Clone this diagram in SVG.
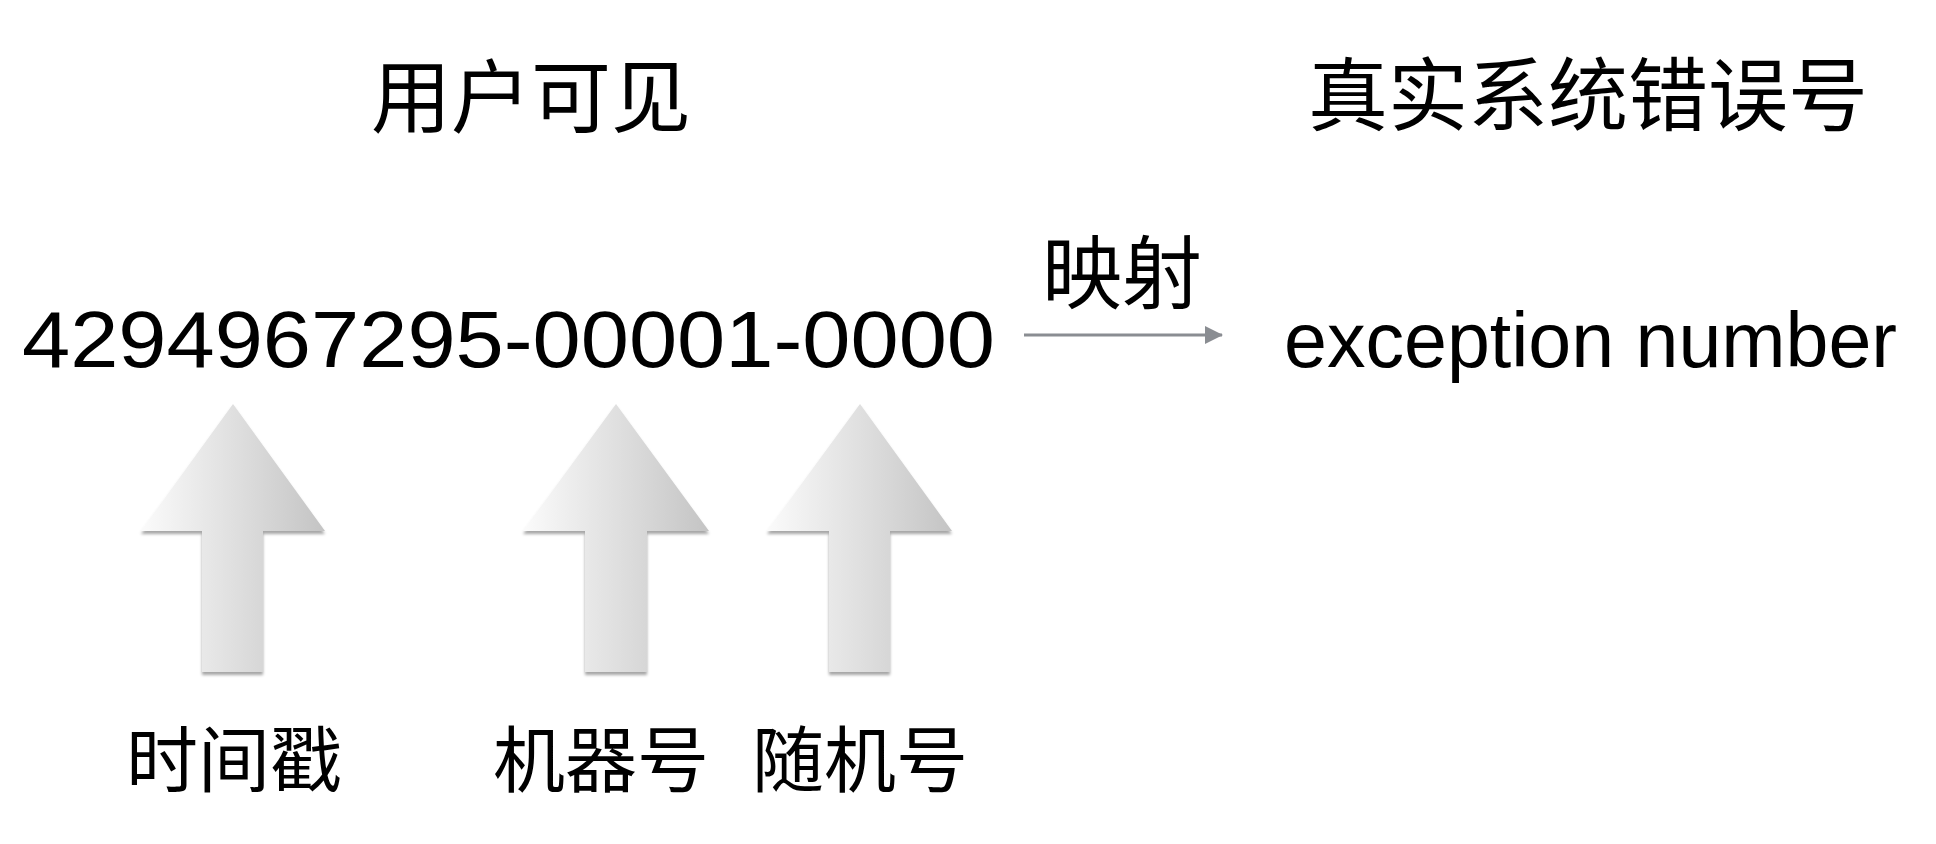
<svg xmlns="http://www.w3.org/2000/svg" width="1936" height="844" viewBox="0 0 1936 844">
  <style>
    .cjk { font-family: "Noto Sans CJK SC", "Noto Sans", sans-serif; fill: #000; }
    .lat { font-family: "Liberation Sans", "Noto Sans", sans-serif; fill: #000; }
    .title { font-size: 80px; }
    .label { font-size: 72px; }
    .block { fill: url(#blockGrad); filter: url(#shadow); }
    .conn { stroke: #8a8d92; stroke-width: 3; fill: none; }
  </style>
  <defs>
    <linearGradient id="blockGrad" x1="0" y1="0" x2="1" y2="0">
      <stop offset="0" stop-color="#fbfbfb"/>
      <stop offset="1" stop-color="#c4c4c4"/>
    </linearGradient>
    <filter id="shadow" x="-10%" y="-10%" width="120%" height="120%">
      <feDropShadow dx="0" dy="3" stdDeviation="1.5" flood-color="#000" flood-opacity="0.35"/>
    </filter>
    <marker id="arrowHead" markerWidth="18" markerHeight="18" refX="17" refY="9" orient="auto" markerUnits="userSpaceOnUse">
      <path d="M0,0 L18,9 L0,18 Z" fill="#8a8d92"/>
    </marker>
  </defs>
  <rect width="1936" height="844" fill="#fff"/>

  <g id="title-user-visible">
    <text class="cjk title" x="531" y="126" text-anchor="middle">用户可见</text>
  </g>
  <g id="title-real-error">
    <text class="cjk title" x="1588" y="124" text-anchor="middle">真实系统错误号</text>
  </g>

  <g id="node-code">
    <text class="lat" x="22" y="367" font-size="80" textLength="973" lengthAdjust="spacingAndGlyphs">4294967295-00001-0000</text>
  </g>
  <g id="node-exception">
    <text class="lat" x="1284" y="367" font-size="77" textLength="613" lengthAdjust="spacingAndGlyphs">exception number</text>
  </g>

  <g id="connectors">
    <line class="conn" x1="1024" y1="335" x2="1222" y2="335" marker-end="url(#arrowHead)"/>
    <text class="cjk title" x="1122" y="302" text-anchor="middle">映射</text>
  </g>

  <g id="node-timestamp">
    <polygon class="block" points="233,404 325,531 263,531 263,672 202,672 202,531 141,531"/>
    <text class="cjk label" x="234" y="786" text-anchor="middle">时间戳</text>
  </g>
  <g id="node-machine">
    <polygon class="block" points="616,404 709,531 647,531 647,672 585,672 585,531 523,531"/>
    <text class="cjk label" x="601" y="786" text-anchor="middle">机器号</text>
  </g>
  <g id="node-random">
    <polygon class="block" points="860,404 952,531 890,531 890,672 829,672 829,531 767,531"/>
    <text class="cjk label" x="860" y="786" text-anchor="middle">随机号</text>
  </g>
</svg>
